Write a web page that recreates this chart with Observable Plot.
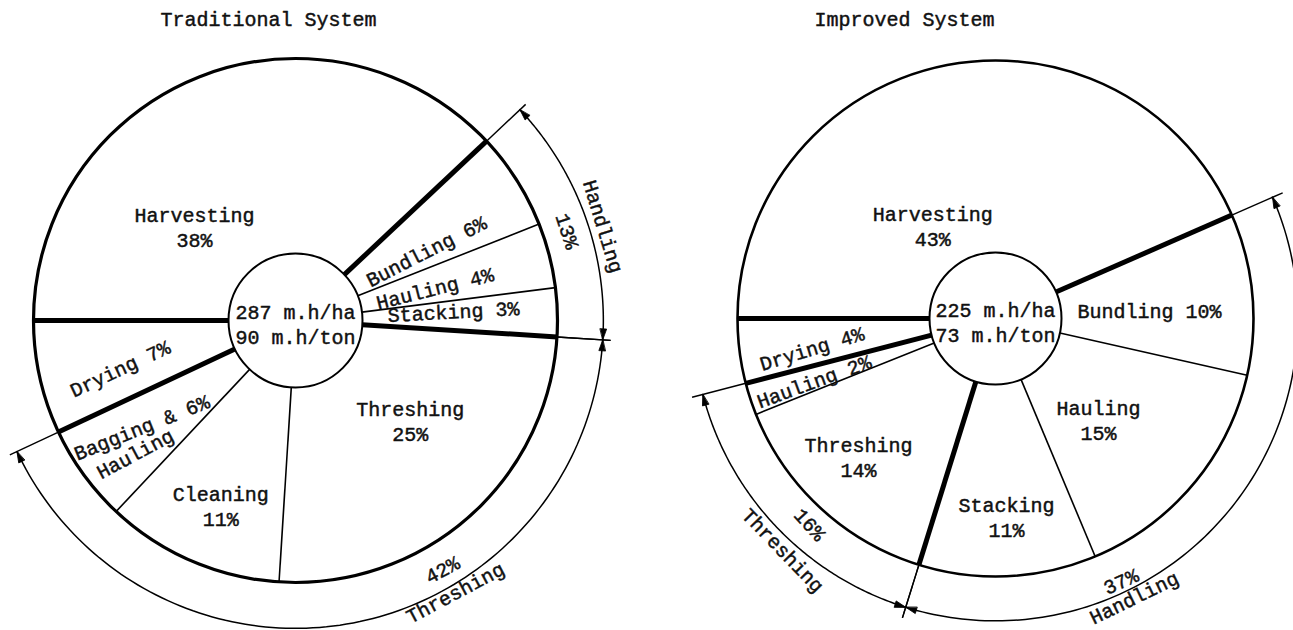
<!DOCTYPE html>
<html><head><meta charset="utf-8">
<script src="https://cdn.jsdelivr.net/npm/d3@7"></script>
<script src="https://cdn.jsdelivr.net/npm/@observablehq/plot@0.6"></script>
<style>body{margin:0;background:#fff}svg{display:block}</style>
</head><body><div id="chart"></div>
<script>
// ---------------- data ----------------
const titles = ["Traditional System", "Improved System"];

const tradTasks  = ["Harvesting","Bundling","Hauling","Stacking","Threshing","Cleaning","Bagging & Hauling","Drying"];
const tradShares = [38, 6, 4, 3, 25, 11, 6, 7];
const tradGroups = ["Harvesting","Handling","Handling","Handling","Threshing","Threshing","Threshing","Drying"];
const tradTotals = ["287 m.h/ha", "90 m.h/ton"];
const tradBracketGroups = ["Handling", "Threshing"];
const tradBracketShares = [13, 42];

const impTasks  = ["Harvesting","Bundling","Hauling","Stacking","Threshing","Hauling","Drying"];
const impShares = [43, 10, 15, 11, 14, 2, 4];
const impGroups = ["Harvesting","Handling","Handling","Handling","Threshing","Threshing","Drying"];
const impTotals = ["225 m.h/ha", "73 m.h/ton"];
const impBracketGroups = ["Threshing", "Handling"];
const impBracketShares = [16, 37];

// ---------------- layout (positions / styles) ----------------
const W = 1293, H = 630;
const charts = [
  {key:"trad", title: titles[0], tasks: tradTasks, shares: tradShares, groups: tradGroups, totals: tradTotals,
   bGroups: tradBracketGroups, bShares: tradBracketShares,
   cx:295, cy:320, R:262, rIn:67, arcR:1.175, extR:1.205, titleX:268, titleY:17, outerW:3.2,
   labels: [
     {kind:"stack",  a:313,   r:0.527, rot:0},
     {kind:"inline", a:61.7,  r:0.565, rot:-27},
     {kind:"inline", a:76.6,  r:0.546, rot:-14},
     {kind:"inline", a:86.4,  r:0.604, rot:-3},
     {kind:"stack",  a:131,   r:0.58,  rot:0},
     {kind:"stack",  a:202,   r:0.762, rot:0},
     {kind:"split",  a:235.5, r:0.714, rot:-22, a2:230.6, r2:0.795, rot2:-28},
     {kind:"inline", a:255,   r:0.695, rot:-25}
   ],
   bLabels: [
     {a:71.8, r:1.097, rot:72, na:73, nr:1.233, nrot:73},
     {a:149.5, r:1.1, rot:-28, na:149.6, nr:1.2, nrot:-28}
   ]},
  {key:"imp", title: titles[1], tasks: impTasks, shares: impShares, groups: impGroups, totals: impTotals,
   bGroups: impBracketGroups, bShares: impBracketShares,
   cx:995, cy:318, R:258, rIn:66, arcR:1.172, extR:1.215, titleX:904, titleY:17, outerW:2.6,
   labels: [
     {kind:"stack",  a:326,   r:0.435, rot:0},
     {kind:"inline", a:86.7,  r:0.598, rot:0},
     {kind:"stack",  a:134.4, r:0.559, rot:0},
     {kind:"stack",  a:176.8, r:0.769, rot:0},
     {kind:"stack",  a:224.8, r:0.753, rot:0},
     {kind:"inline", a:251.2, r:0.745, rot:-20},
     {kind:"inline", a:261,   r:0.722, rot:-17}
   ],
   bLabels: [
     {a:222, r:1.07, rot:48, na:222.5, nr:1.214, nrot:46},
     {a:154.5, r:1.125, rot:-24, na:153.6, nr:1.203, nrot:-26}
   ]}
];

// ---------------- geometry from data ----------------
const pt = (c, ang, r) => [c.cx + r * Math.sin(ang), c.cy - r * Math.cos(ang)];
const deg = d => d * Math.PI / 180;
const todeg = r => r * 180 / Math.PI;

const circles = [], spokes = [], exts = [], arcPts = [], heads = [], texts = [];
const pie = d3.pie().sort(null).value(d => d.share).startAngle(-Math.PI / 2).endAngle(3 * Math.PI / 2);

for (const c of charts) {
  const slices = c.tasks.map((t, i) => ({task: t, share: c.shares[i], group: c.groups[i], i}));
  const arcs = pie(slices);
  circles.push({x: c.cx, y: c.cy, R: c.R, rIn: c.rIn, w: c.outerW});
  const n = arcs.length;
  arcs.forEach((a, i) => {
    const prev = arcs[(i - 1 + n) % n];
    const thick = prev.data.group !== a.data.group;
    const [x1, y1] = pt(c, a.startAngle, c.rIn);
    const [x2, y2] = pt(c, a.startAngle, c.R);
    spokes.push({x1, y1, x2, y2, w: thick ? 5 : 1.6});
    const L = c.labels[i];
    const [lx, ly] = pt(c, deg(L.a), L.r * c.R);
    const pct = a.data.share + "%";
    if (L.kind === "stack") texts.push({x: lx, y: ly, text: a.data.task + "\n" + pct, rot: L.rot});
    else if (L.kind === "inline") texts.push({x: lx, y: ly, text: a.data.task + " " + pct, rot: L.rot});
    else {
      const words = a.data.task.split(" ");
      const last = words.pop();
      texts.push({x: lx, y: ly, text: words.join(" ") + " " + pct, rot: L.rot});
      const [lx2, ly2] = pt(c, deg(L.a2), L.r2 * c.R);
      texts.push({x: lx2, y: ly2, text: last, rot: L.rot2});
    }
  });
  c.bGroups.forEach((g, j) => {
    const members = arcs.filter(a => a.data.group === g);
    const s = d3.min(members, a => a.startAngle), e = d3.max(members, a => a.endAngle);
    for (const ang of [s, e]) {
      const [x1, y1] = pt(c, ang, c.R);
      const [x2, y2] = pt(c, ang, c.extR * c.R);
      exts.push({x1, y1, x2, y2});
    }
    const steps = 120;
    for (let k = 0; k <= steps; k++) {
      const ang = s + (e - s) * k / steps;
      const [x, y] = pt(c, ang, c.arcR * c.R);
      arcPts.push({x, y, id: c.key + g});
    }
    const [sx, sy] = pt(c, s, c.arcR * c.R);
    const [ex, ey] = pt(c, e, c.arcR * c.R);
    heads.push({x: sx, y: sy, rot: todeg(s) - 90});
    heads.push({x: ex, y: ey, rot: todeg(e) + 90});
    const B = c.bLabels[j];
    const [px, py] = pt(c, deg(B.a), B.r * c.R);
    texts.push({x: px, y: py, text: c.bShares[j] + "%", rot: B.rot});
    const [nx, ny] = pt(c, deg(B.na), B.nr * c.R);
    texts.push({x: nx, y: ny, text: g, rot: B.nrot});
  });
  texts.push({x: c.cx, y: c.cy + 3, text: c.totals.join("\n"), rot: 0});
  texts.push({x: c.titleX, y: c.titleY, text: c.title, rot: 0});
}

const headShape = {
  draw(context, l, r) {
    context.moveTo(0, 0);
    context.lineTo(-r, l);
    context.lineTo(r, l);
    context.closePath();
  }
};

const chart = Plot.plot({
  width: W, height: H, margin: 0,
  x: {domain: [0, W], range: [0, W], axis: null},
  y: {domain: [0, H], range: [0, H], axis: null},
  r: {type: "identity"},
  style: {background: "white", fontFamily: "Liberation Mono"},
  marks: [
    Plot.dot(circles, {x: "x", y: "y", r: "R", fill: "none", stroke: "black", strokeWidth: d => d.w}),
    Plot.link(spokes, {x1: "x1", y1: "y1", x2: "x2", y2: "y2", stroke: "black", strokeWidth: "w"}),
    Plot.link(exts, {x1: "x1", y1: "y1", x2: "x2", y2: "y2", stroke: "black", strokeWidth: 1.4}),
    Plot.line(arcPts, {x: "x", y: "y", z: "id", stroke: "black", strokeWidth: 1.5}),
    Plot.vector(heads, {x: "x", y: "y", rotate: "rot", length: 11, r: 3.2, shape: headShape,
      anchor: "start", fill: "black", stroke: "black", strokeWidth: 0.8}),
    Plot.dot(circles, {x: "x", y: "y", r: "rIn", fill: "white", stroke: "black", strokeWidth: 2}),
    Plot.text(texts, {x: "x", y: "y", text: "text", rotate: "rot", fontSize: 20, lineHeight: 1.25,
      fontFamily: "Liberation Mono", fill: "#111", stroke: "#111", strokeWidth: 0.45,
      textAnchor: "middle"})
  ]
});
document.getElementById("chart").appendChild(chart);
</script>
</body></html>
